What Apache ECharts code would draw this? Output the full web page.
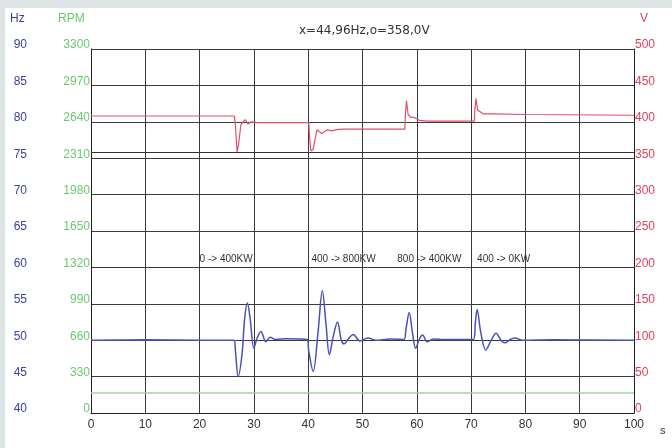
<!DOCTYPE html>
<html><head><meta charset="utf-8">
<script src="https://cdn.jsdelivr.net/npm/echarts@6/dist/echarts.min.js"></script>
<style>html,body{margin:0;padding:0;background:#dfe4e4}#c{width:672px;height:448px}</style>
</head><body><div id="c"></div>
<script>
// ---- data ----
const timeTicks = [0,10,20,30,40,50,60,70,80,90,100];
// Frequency (Hz) trace: [time s, Hz]
const freqData = [[0,50.0],[10,50.05],[20,50.0],[26.3,50.0],[26.6,48.5],[27.1,45.0],[27.8,48.0],[28.3,53.0],[28.8,55.1],[29.3,53.0],[30.0,48.9],[30.6,50.3],[31.3,51.2],[32.2,49.8],[33.0,50.4],[34.0,50.1],[36.0,50.2],[39.8,50.1],[40.1,48.5],[40.9,45.7],[41.8,51.0],[42.6,56.8],[43.3,52.0],[43.9,48.0],[44.6,50.5],[45.4,52.5],[46.1,50.0],[46.6,49.5],[47.5,50.3],[48.3,50.8],[49.5,49.9],[51.0,50.3],[52.5,50.0],[55.0,50.15],[57.6,50.1],[58.0,51.5],[58.6,53.8],[59.2,51.0],[59.8,48.9],[60.5,50.2],[61.1,50.7],[61.9,49.8],[63.0,50.15],[65.0,50.1],[70.4,50.1],[70.8,52.5],[71.1,54.2],[71.8,51.0],[72.7,48.65],[73.7,50.0],[74.6,50.95],[75.5,50.0],[76.2,49.65],[77.2,50.1],[78.1,50.3],[79.5,50.0],[85.0,50.05],[100,50.0]];
// Voltage (V) trace: [time s, V]
const voltData = [[0,408],[26.4,408],[26.6,395],[26.9,358.5],[27.2,370],[27.6,396],[28.4,403],[28.9,397],[29.5,400],[30.5,399],[40.1,399],[40.3,375],[40.5,360],[40.9,362],[41.6,389],[42.5,384],[43.5,389],[44.3,387.5],[45.5,389.5],[47.0,390],[57.8,390],[57.9,410],[58.1,429],[58.4,410],[58.9,406],[59.5,406],[60.5,402],[62.0,401],[70.6,401],[70.7,418],[70.9,432],[71.2,416],[71.6,414],[72.2,411],[74.0,411],[80.0,410],[100,409]];
// Speed (RPM) trace: [time s, RPM]
const rpmData = [[0,181],[100,181]];
const cursorVolt = 358.0;
const annotations = [
  {t:20.0, hz:61.15, text:'0 -> 400KW'},
  {t:40.6, hz:61.15, text:'400 -> 800KW'},
  {t:56.4, hz:61.15, text:'800 -> 400KW'},
  {t:71.1, hz:61.15, text:'400 -> 0KW'}
];
const titleText = 'x=44,96Hz,o=358,0V';

const FONT = '"Liberation Sans", Arial, sans-serif';
const gridColor = '#3a3a3a';
const yLabel = (color, margin) => ({color, fontSize:12, margin, fontFamily:FONT,
  verticalAlign:'bottom', lineHeight:8, formatter: v => String(v)});
const chart = echarts.init(document.getElementById('c'));
chart.setOption({
  backgroundColor: '#dfe4e4',
  animation: false,
  textStyle: {fontFamily: FONT},
  title: {text: titleText, left: 294, top: 20,
    textStyle: {fontSize: 12, fontWeight: 'normal', color: '#333', fontFamily: '"DejaVu Sans", sans-serif'}},
  graphic: [
    {type:'rect', z:-100, silent:true, shape:{x:5,y:8,width:667,height:440}, style:{fill:'#ffffff'}},
    {type:'text', left:10, top:13, style:{text:'Hz', fill:'#3c3f9c', font:'12px '+FONT}},
    {type:'text', left:58, top:13, style:{text:'RPM', fill:'#6cc86c', font:'12px '+FONT}},
    {type:'text', left:640, top:13, style:{text:'V', fill:'#e0405a', font:'12px '+FONT}},
    {type:'text', left:660, top:425, style:{text:'s', fill:'#333', font:'11px '+FONT}}
  ],
  grid: {left: 91, right: 38, top: 49, bottom: 35},
  xAxis: {
    type: 'value', min: 0, max: 100, interval: 10,
    axisLine: {show: true, lineStyle: {color: '#222', width: 1}},
    axisTick: {show: false},
    axisLabel: {color: '#333', fontSize: 12, margin: 6, fontFamily: FONT,
      formatter: v => timeTicks.indexOf(v) >= 0 ? String(v) : ''},
    splitLine: {show: true, lineStyle: {color: gridColor, width: 1}}
  },
  yAxis: [
    {type:'value', min:40, max:90, interval:5, position:'left', offset:56,
      axisLine:{show:false}, axisTick:{show:false}, splitLine:{show:false},
      axisLabel: yLabel('#3c3f9c', 8)},
    {type:'value', min:0, max:3300, interval:330, position:'left', offset:0,
      axisLine:{show:true, lineStyle:{color:'#222', width:1}}, axisTick:{show:false},
      splitLine:{show:true, lineStyle:{color:gridColor, width:1}},
      axisLabel: yLabel('#6cc86c', 1)},
    {type:'value', min:0, max:500, interval:50, position:'right', offset:0,
      axisLine:{show:true, lineStyle:{color:'#222', width:1}}, axisTick:{show:false},
      splitLine:{show:false},
      axisLabel: yLabel('#e0405a', 1)}
  ],
  series: [
    {type:'line', name:'RPM', yAxisIndex:1, data: rpmData, showSymbol:false,
      lineStyle:{color:'#9ad89a', width:1.5}},
    {type:'line', name:'V', yAxisIndex:2, data: voltData, showSymbol:false,
      lineStyle:{color:'#e0506a', width:1.2},
      markLine:{silent:true, symbol:'none', label:{show:false},
        lineStyle:{color:'#333', width:1, type:'solid'},
        data:[{yAxis: cursorVolt}]}},
    {type:'line', name:'Hz', yAxisIndex:0, data: freqData, showSymbol:false, smooth:0.35,
      lineStyle:{color:'#4b52b5', width:1.5},
      markPoint:{silent:true, symbol:'circle', symbolSize:0,
        label:{show:true, position:'right', distance:0, color:'#333', fontSize:10, fontFamily:FONT,
          formatter: p => p.name},
        data: annotations.map(a => ({name:a.text, coord:[a.t, a.hz]}))}}
  ]
});
</script></body></html>
